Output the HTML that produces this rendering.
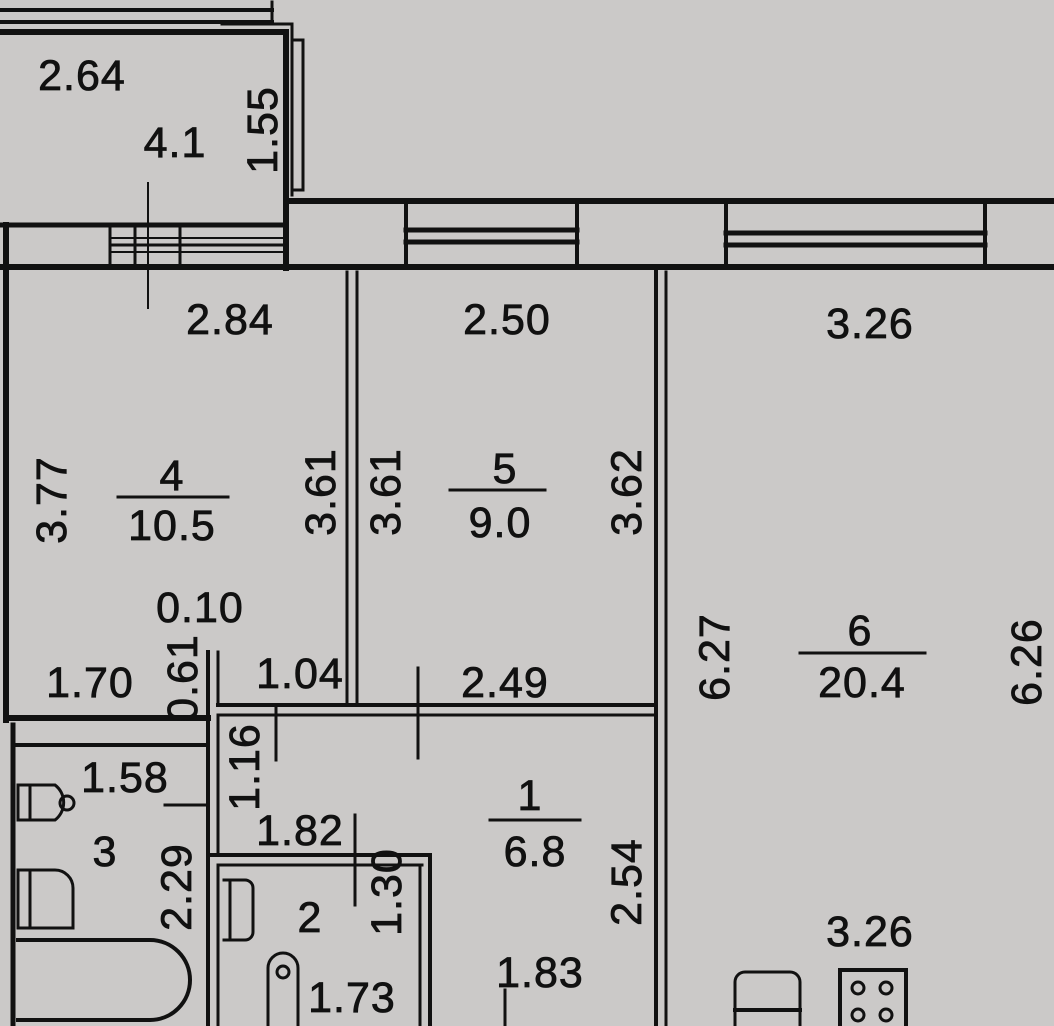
<!DOCTYPE html>
<html><head><meta charset="utf-8"><style>
html,body{margin:0;padding:0;background:#cbc9c8;}
svg{display:block}
text{font-family:"Liberation Sans","DejaVu Sans",sans-serif;font-size:43px;fill:#111;stroke:#111;stroke-width:0.8;letter-spacing:1px;text-anchor:middle}
</style></head><body>
<svg width="1054" height="1026" viewBox="0 0 1054 1026" xmlns="http://www.w3.org/2000/svg">
<rect width="1054" height="1026" fill="#cbc9c8"/>
<g stroke="#111" fill="none" stroke-linecap="square">
<line x1="0" y1="10" x2="272" y2="10" stroke-width="4"/>
<line x1="0" y1="22" x2="272" y2="22" stroke-width="4"/>
<line x1="272" y1="2" x2="272" y2="22" stroke-width="3"/>
<line x1="0" y1="32" x2="286" y2="32" stroke-width="6"/>
<line x1="286" y1="32" x2="286" y2="268" stroke-width="6"/>
<line x1="292" y1="24" x2="292" y2="195" stroke-width="3"/>
<line x1="292" y1="24" x2="222" y2="24" stroke-width="3"/>
<polyline points="224,40 235,40 235,190 226,190" stroke-width="3" transform="translate(68,0)"/>
<line x1="286" y1="201" x2="1054" y2="201" stroke-width="6"/>
<line x1="0" y1="225" x2="286" y2="225" stroke-width="5"/>
<line x1="0" y1="267" x2="1054" y2="267" stroke-width="6"/>
<line x1="6" y1="225" x2="6" y2="720" stroke-width="6"/>
<line x1="110" y1="225" x2="110" y2="267" stroke-width="3"/>
<line x1="135" y1="225" x2="135" y2="267" stroke-width="3"/>
<line x1="180" y1="225" x2="180" y2="267" stroke-width="3"/>
<line x1="110" y1="238" x2="286" y2="238" stroke-width="2"/>
<line x1="110" y1="245" x2="286" y2="245" stroke-width="3"/>
<line x1="110" y1="252" x2="286" y2="252" stroke-width="2"/>
<line x1="148" y1="183" x2="148" y2="308" stroke-width="2"/>
<line x1="406" y1="201" x2="406" y2="267" stroke-width="4"/>
<line x1="577" y1="201" x2="577" y2="267" stroke-width="4"/>
<line x1="406" y1="230" x2="577" y2="230" stroke-width="5"/>
<line x1="406" y1="242" x2="577" y2="242" stroke-width="5"/>
<line x1="726" y1="201" x2="726" y2="267" stroke-width="4"/>
<line x1="985" y1="201" x2="985" y2="267" stroke-width="4"/>
<line x1="726" y1="233" x2="985" y2="233" stroke-width="5"/>
<line x1="726" y1="245" x2="985" y2="245" stroke-width="5"/>
<line x1="347" y1="272" x2="347" y2="705" stroke-width="3"/>
<line x1="357" y1="272" x2="357" y2="705" stroke-width="3"/>
<line x1="656" y1="272" x2="656" y2="1026" stroke-width="4"/>
<line x1="666" y1="272" x2="666" y2="1026" stroke-width="3"/>
<line x1="6" y1="718" x2="208" y2="718" stroke-width="6"/>
<line x1="208" y1="652" x2="208" y2="1026" stroke-width="4"/>
<line x1="218" y1="652" x2="218" y2="705" stroke-width="3"/>
<line x1="218" y1="705" x2="656" y2="705" stroke-width="4"/>
<line x1="218" y1="715" x2="656" y2="715" stroke-width="3"/>
<line x1="218" y1="715" x2="218" y2="855" stroke-width="3"/>
<line x1="13" y1="725" x2="13" y2="1026" stroke-width="5"/>
<line x1="13" y1="745" x2="205" y2="745" stroke-width="4"/>
<line x1="208" y1="855" x2="430" y2="855" stroke-width="4"/>
<line x1="218" y1="865" x2="422" y2="865" stroke-width="3"/>
<line x1="430" y1="855" x2="430" y2="1026" stroke-width="4"/>
<line x1="420" y1="865" x2="420" y2="1026" stroke-width="3"/>
<line x1="218" y1="865" x2="218" y2="1026" stroke-width="3"/>
<line x1="276" y1="705" x2="276" y2="760" stroke-width="3"/>
<line x1="418" y1="668" x2="418" y2="758" stroke-width="3"/>
<line x1="355" y1="815" x2="355" y2="905" stroke-width="3"/>
<line x1="165" y1="805" x2="205" y2="805" stroke-width="3"/>
<line x1="505" y1="990" x2="505" y2="1026" stroke-width="3"/>
<line x1="118" y1="497" x2="228" y2="497" stroke-width="3"/>
<line x1="450" y1="490" x2="545" y2="490" stroke-width="3"/>
<line x1="800" y1="653" x2="925" y2="653" stroke-width="3"/>
<line x1="490" y1="820" x2="580" y2="820" stroke-width="3"/>
<path d="M18,785 H55 A22,22 0 0 1 55,820 H18 Z" stroke-width="3"/>
<line x1="30" y1="785" x2="30" y2="820" stroke-width="3"/>
<circle cx="67" cy="803" r="7" stroke-width="3"/>
<path d="M18,870 H55 A18,18 0 0 1 73,888 V928 H18 Z" stroke-width="3"/>
<line x1="30" y1="870" x2="30" y2="928" stroke-width="3"/>
<path d="M18,940 H150 A40,40 0 0 1 150,1020 H18" stroke-width="4"/>
<path d="M224,880 H245 A8,8 0 0 1 253,888 V932 A8,8 0 0 1 245,940 H224" stroke-width="3"/>
<line x1="230" y1="880" x2="230" y2="940" stroke-width="3"/>
<path d="M268,1026 V968 A15,15 0 0 1 298,968 V1026" stroke-width="3"/>
<circle cx="283" cy="972" r="6" stroke-width="3"/>
<path d="M735,1026 V982 A10,10 0 0 1 745,972 H790 A10,10 0 0 1 800,982 V1026" stroke-width="3"/>
<line x1="735" y1="1010" x2="800" y2="1010" stroke-width="4"/>
<rect x="840" y="970" width="66" height="60" stroke-width="4"/>
<circle cx="858" cy="988" r="6" stroke-width="3"/>
<circle cx="886" cy="988" r="6" stroke-width="3"/>
<circle cx="858" cy="1015" r="6" stroke-width="3"/>
<circle cx="886" cy="1015" r="6" stroke-width="3"/>
</g>
<g>
<text x="82" y="90">2.64</text>
<text x="175" y="157">4.1</text>
<text transform="translate(277,130) rotate(-90)">1.55</text>
<text x="230" y="334">2.84</text>
<text x="507" y="334">2.50</text>
<text x="870" y="338">3.26</text>
<text transform="translate(66,500) rotate(-90)">3.77</text>
<text x="172" y="490">4</text>
<text x="172" y="540">10.5</text>
<text transform="translate(335,492) rotate(-90)">3.61</text>
<text transform="translate(400,492) rotate(-90)">3.61</text>
<text x="505" y="483">5</text>
<text x="500" y="537">9.0</text>
<text transform="translate(641,492) rotate(-90)">3.62</text>
<text x="200" y="622">0.10</text>
<text x="90" y="697">1.70</text>
<text transform="translate(197,678) rotate(-90)">0.61</text>
<text x="300" y="688">1.04</text>
<text x="505" y="697">2.49</text>
<text transform="translate(729,657) rotate(-90)">6.27</text>
<text x="860" y="645">6</text>
<text x="862" y="697">20.4</text>
<text transform="translate(1041,662) rotate(-90)">6.26</text>
<text transform="translate(259,767) rotate(-90)">1.16</text>
<text x="125" y="792">1.58</text>
<text x="105" y="866">3</text>
<text x="300" y="845">1.82</text>
<text x="530" y="810">1</text>
<text x="535" y="866">6.8</text>
<text transform="translate(191,887) rotate(-90)">2.29</text>
<text x="310" y="932">2</text>
<text transform="translate(401,892) rotate(-90)">1.30</text>
<text transform="translate(641,882) rotate(-90)">2.54</text>
<text x="540" y="987">1.83</text>
<text x="870" y="946">3.26</text>
<text x="352" y="1012">1.73</text>
</g>
</svg>
</body></html>
